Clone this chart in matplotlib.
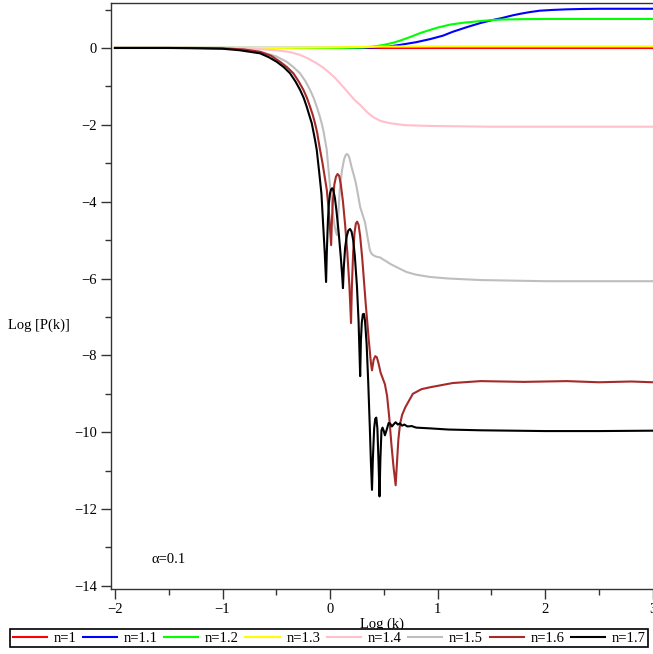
import matplotlib
matplotlib.use("Agg")
import matplotlib.pyplot as plt
from matplotlib.ticker import MultipleLocator

plt.rcParams["font.family"] = ["Liberation Serif", "DejaVu Serif"]
plt.rcParams["font.size"] = 10.5

# log10(k) / log10(P(k)), one pair of lists per n
X_N1 = [-2.0, 3.0]
Y_N1 = [0.0, 0.0]

X_N11 = [-2.0, 0.2, 0.4, 0.55, 0.65, 0.8, 0.93, 1.05, 1.14, 1.27, 1.4, 1.5,
         1.6, 1.7, 1.77, 1.85, 1.95, 2.07, 2.2, 2.35, 2.5, 3.0]
Y_N11 = [0.0, 0.0, 0.01, 0.04, 0.08, 0.15, 0.23, 0.32, 0.42, 0.54, 0.65, 0.72,
         0.78, 0.85, 0.89, 0.93, 0.97, 0.99, 1.005, 1.015, 1.02, 1.02]

X_N12 = [-2.0, 0.1, 0.3, 0.4, 0.5, 0.58, 0.65, 0.75, 0.84, 0.93, 1.0, 1.12,
         1.25, 1.4, 1.5, 1.6, 1.8, 2.0, 3.0]
Y_N12 = [0.0, 0.0, 0.01, 0.035, 0.08, 0.13, 0.19, 0.29, 0.39, 0.47, 0.53,
         0.61, 0.66, 0.70, 0.725, 0.74, 0.75, 0.755, 0.755]

X_N13 = [-2.0, -0.5, 0.0, 0.5, 1.0, 3.0]
Y_N13 = [0.0, 0.0, 0.015, 0.035, 0.04, 0.04]

X_N14 = [-2.0, -1.0, -0.8, -0.65, -0.465, -0.37, -0.28, -0.2, -0.124, -0.06,
         0.0, 0.05, 0.093, 0.14, 0.186, 0.23, 0.279, 0.34, 0.4, 0.47, 0.56,
         0.7, 0.93, 1.5, 3.0]
Y_N14 = [0.0, 0.0, -0.01, -0.03, -0.07, -0.11, -0.18, -0.28, -0.4, -0.52,
         -0.66, -0.79, -0.92, -1.07, -1.22, -1.36, -1.48, -1.66, -1.8, -1.9,
         -1.96, -2.01, -2.03, -2.05, -2.05]

X_N15 = [-2.0, -1.2, -1.0, -0.8, -0.65, -0.5, -0.403, -0.34, -0.279, -0.23,
         -0.186, -0.15, -0.124, -0.1, -0.078, -0.06, -0.047, -0.031, -0.02,
         0.0, 0.02, 0.04, 0.055, 0.065, 0.075, 0.09, 0.11, 0.13, 0.145,
         0.155, 0.167, 0.18, 0.2, 0.22, 0.24, 0.26, 0.28, 0.305, 0.326,
         0.35, 0.37, 0.385, 0.4, 0.42, 0.44, 0.465, 0.49, 0.51, 0.56, 0.63,
         0.71, 0.8, 0.93, 1.1, 1.4, 2.0, 2.5, 3.0]
Y_N15 = [0.0, 0.0, -0.01, -0.04, -0.1, -0.22, -0.36, -0.5, -0.66, -0.86,
         -1.09, -1.32, -1.53, -1.74, -1.96, -2.18, -2.39, -2.65, -3.0,
         -3.6, -4.15, -4.6, -4.8, -4.87, -4.4, -3.7, -3.2, -2.9, -2.79,
         -2.76, -2.78, -2.86, -3.1, -3.3, -3.52, -3.82, -4.14, -4.36, -4.55,
         -4.95, -5.26, -5.35, -5.39, -5.42, -5.44, -5.45, -5.5, -5.53, -5.62,
         -5.72, -5.83, -5.9, -5.96, -6.0, -6.04, -6.07, -6.07, -6.07]

X_N16 = [-2.0, -1.3, -1.0, -0.8, -0.651, -0.55, -0.465, -0.4, -0.341, -0.29,
         -0.248, -0.215, -0.186, -0.16, -0.14, -0.12, -0.109, -0.093, -0.07,
         -0.05, -0.03, -0.01, 0.01, 0.017, 0.027, 0.04, 0.055, 0.07, 0.085,
         0.1, 0.12, 0.14, 0.16, 0.18, 0.195, 0.203, 0.215, 0.228, 0.24,
         0.252, 0.265, 0.28, 0.3, 0.33, 0.36, 0.38, 0.39, 0.405, 0.42,
         0.435, 0.45, 0.47, 0.49, 0.51, 0.53, 0.55, 0.57, 0.59, 0.61, 0.62,
         0.635, 0.65, 0.67, 0.7, 0.73, 0.77, 0.85, 0.93, 1.14, 1.4, 1.8,
         2.2, 2.5, 2.8, 3.0]
Y_N16 = [0.0, 0.0, -0.01, -0.04, -0.1, -0.2, -0.36, -0.5, -0.66, -0.88,
         -1.09, -1.3, -1.53, -1.75, -1.96, -2.2, -2.39, -2.65, -3.0,
         -3.35, -3.7, -4.3, -5.13, -4.5, -3.95, -3.55, -3.35, -3.28, -3.33,
         -3.55, -4.0, -4.6, -5.3, -6.2, -7.16, -6.2, -5.3, -4.8, -4.57,
         -4.52, -4.6, -4.9, -5.5, -6.6, -7.6, -8.2, -8.39, -8.12, -8.02,
         -8.05, -8.2, -8.45, -8.6, -8.75, -9.05, -9.6, -10.3, -10.9, -11.38,
         -10.9, -10.2, -9.8, -9.55, -9.35, -9.2, -9.0, -8.88, -8.83, -8.72,
         -8.67, -8.69, -8.67, -8.7, -8.68, -8.7]

X_N17 = [-2.0, -1.5, -1.2, -1.0, -0.84, -0.651, -0.57, -0.496, -0.43, -0.372,
         -0.32, -0.279, -0.245, -0.217, -0.19, -0.17, -0.14, -0.124, -0.1,
         -0.08, -0.065, -0.05, -0.037, -0.03, -0.02, -0.01, 0.0, 0.01, 0.02,
         0.03, 0.045, 0.06, 0.08, 0.1, 0.112, 0.12, 0.128, 0.14, 0.155,
         0.17, 0.186, 0.2, 0.215, 0.23, 0.25, 0.265, 0.28, 0.287, 0.295,
         0.305, 0.315, 0.325, 0.34, 0.355, 0.37, 0.38, 0.39, 0.398, 0.41,
         0.42, 0.43, 0.44, 0.45, 0.46, 0.468, 0.478, 0.488, 0.5, 0.51, 0.525,
         0.545, 0.56, 0.575, 0.59, 0.61, 0.63, 0.65, 0.67, 0.69, 0.72, 0.76,
         0.8, 0.93, 1.1, 1.4, 2.0, 2.5, 3.0]
Y_N17 = [0.0, 0.0, -0.01, -0.02, -0.06, -0.14, -0.24, -0.36, -0.5, -0.66,
         -0.88, -1.09, -1.3, -1.53, -1.78, -1.96, -2.39, -2.65, -3.26,
         -3.8, -4.56, -5.3, -6.09, -5.3, -4.5, -4.0, -3.78, -3.68, -3.65,
         -3.7, -3.9, -4.25, -4.8, -5.45, -5.9, -6.25, -5.7, -5.2, -4.9,
         -4.75, -4.71, -4.78, -5.0, -5.4, -6.2, -7.1, -8.54, -7.6, -7.15,
         -6.93, -6.92, -7.1, -7.7, -8.7, -9.9, -10.8, -11.5, -10.7, -9.9,
         -9.65, -9.62, -9.9, -10.7, -11.67, -10.7, -9.95, -9.88, -9.97,
         -10.08, -9.95, -9.76, -9.78, -9.85, -9.8, -9.74, -9.8, -9.77,
         -9.83, -9.8, -9.85, -9.84, -9.88, -9.9, -9.93, -9.95, -9.97, -9.97,
         -9.96]

SERIES = [
    ("n=1", X_N1, Y_N1, "#ff0000"),
    ("n=1.1", X_N11, Y_N11, "#0000ff"),
    ("n=1.2", X_N12, Y_N12, "#00ff00"),
    ("n=1.3", X_N13, Y_N13, "#ffff00"),
    ("n=1.4", X_N14, Y_N14, "#ffc0cb"),
    ("n=1.5", X_N15, Y_N15, "#bebebe"),
    ("n=1.6", X_N16, Y_N16, "#a52a2a"),
    ("n=1.7", X_N17, Y_N17, "#000000"),
]

fig = plt.figure(figsize=(6.53, 6.54), dpi=100)
ax = fig.add_axes([111 / 653, 1 - 589 / 654, 1 - 111 / 653, 586 / 654])

for label, xs, ys, col in SERIES:
    ax.plot(xs, ys, color=col, lw=1.5, label=label)

ax.set_xlim(-2.037, 3.003)
ax.set_ylim(-14.08, 1.17)
ax.xaxis.set_major_locator(MultipleLocator(1))
ax.xaxis.set_minor_locator(MultipleLocator(0.5))
ax.yaxis.set_major_locator(MultipleLocator(2))
ax.yaxis.set_minor_locator(MultipleLocator(1))
ax.tick_params(which="major", length=7, width=1, color="#333333", pad=3)
ax.tick_params(which="minor", length=4, width=1, color="#333333")
ax.spines["right"].set_visible(False)
for s in ("left", "bottom", "top"):
    ax.spines[s].set_color("#333333")
    ax.spines[s].set_linewidth(1.0)

ax.set_xlabel("Log (k)", labelpad=1)
fig.text(8 / 653, 1 - 325 / 654, "Log [P(k)]", ha="left", va="center")
ax.text(-1.66, -13.3, "\u03b1=0.1", ha="left", va="center")

fig.legend(loc="center", bbox_to_anchor=(329 / 653, 1 - 638 / 654), ncol=8,
           frameon=True, fancybox=False, edgecolor="black", framealpha=1,
           handlelength=2.35, handletextpad=0.45, columnspacing=0.45,
           borderpad=0.15, borderaxespad=0)
fig.legends[0].get_frame().set_linewidth(1.2)

fig.savefig("out.png", dpi=100)
